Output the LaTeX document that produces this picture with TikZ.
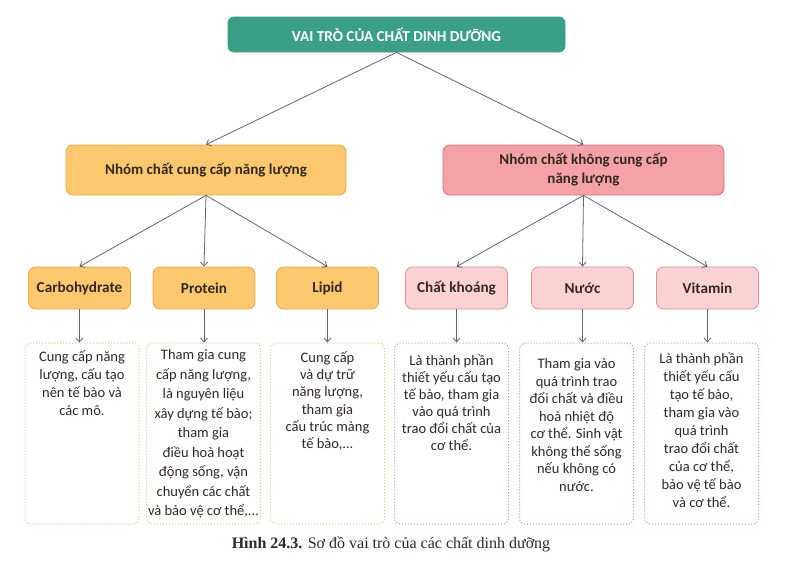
\documentclass[tikz,border=0pt]{standalone}
\usepackage{fontspec}
\setmainfont{Carlito}
\newfontfamily\capfont{Liberation Serif}
\usetikzlibrary{arrows.meta,positioning}
\definecolor{teal1}{RGB}{57,160,133}
\definecolor{orfill}{RGB}{251,200,110}
\definecolor{ordraw}{RGB}{236,168,70}
\definecolor{pkfill}{RGB}{244,162,166}
\definecolor{pkdraw}{RGB}{222,110,125}
\definecolor{pkfill2}{RGB}{250,210,210}
\definecolor{pkdraw2}{RGB}{226,140,150}
\definecolor{ordot}{RGB}{225,200,120}
\definecolor{pkdot}{RGB}{225,130,160}
\definecolor{txt}{RGB}{50,40,35}
\definecolor{arr}{RGB}{100,100,112}
\tikzset{
  topbox/.style={draw=teal1, fill=teal1, rounded corners=6pt, minimum width=337pt, minimum height=35pt, text=white, font=\bfseries\fontsize{15.2}{17}\selectfont, line width=0.8pt},
  grpor/.style={draw=ordraw, fill=orfill, rounded corners=7pt, minimum width=280pt, minimum height=50pt, text=txt, font=\bfseries\fontsize{15}{19}\selectfont, align=center, line width=0.8pt},
  grppk/.style={draw=pkdraw, fill=pkfill, rounded corners=7pt, minimum width=281pt, minimum height=50pt, text=txt, font=\bfseries\fontsize{15}{19}\selectfont, align=center, line width=0.8pt},
  smor/.style={draw=ordraw, fill=orfill, rounded corners=7pt, minimum width=102pt, minimum height=42pt, text=txt, font=\bfseries\fontsize{15.2}{17}\selectfont, line width=0.8pt},
  smpk/.style={draw=pkdraw2, fill=pkfill2, rounded corners=7pt, minimum width=102pt, minimum height=42pt, text=txt, font=\bfseries\fontsize{15.2}{17}\selectfont, line width=0.8pt},
  descor/.style={draw=ordot, dotted, line width=1pt, rounded corners=6pt, minimum width=114pt, minimum height=181pt, fill=white},
  descpk/.style={draw=pkdot, dotted, line width=1pt, rounded corners=6pt, minimum width=114pt, minimum height=181pt, fill=white},
  desctext/.style={text=txt, font=\fontsize{14.5}{18}\selectfont, align=center, inner sep=0pt},
  captext/.style={text=txt, font=\capfont\fontsize{16}{18}\selectfont},
  conn/.style={draw=arr, line width=0.8pt, -{Straight Barb[length=4pt,width=7pt]}}
}
\begin{document}
\begin{tikzpicture}[x=1pt,y=-1pt]
\useasboundingbox (0,0) rectangle (791,566);
\fill[white] (0,0) rectangle (791,566);
\node[topbox] (top) at (396.5,34.5) {VAI TRÒ CỦA CHẤT DINH DƯỠNG};
\node[grpor] (g1) at (206,170) {Nhóm chất cung cấp năng lượng};
\node[grppk] (g2) at (583.5,170) {Nhóm chất không cung cấp\\năng lượng};
\node[smor] (c1) at (79.5,288) {Carbohydrate};
\node[smor] (c2) at (204,288) {Protein};
\node[smor] (c3) at (327.5,288) {Lipid};
\node[smpk] (c4) at (456.5,288) {Chất khoáng};
\node[smpk] (c5) at (582.5,288) {Nước};
\node[smpk] (c6) at (707.5,288) {Vitamin};
\node[descor] (d1) at (82,433.5) {};
\node[descor] (d2) at (203.5,433.5) {};
\node[descor] (d3) at (327.5,433.5) {};
\node[descpk] (d4) at (451.5,433.5) {};
\node[descpk] (d5) at (576.5,433.5) {};
\node[descpk] (d6) at (701.5,433.5) {};
\node[desctext, anchor=north] at ([yshift=-8pt]d1.north) {Cung cấp năng\\lượng, cấu tạo\\nên tế bào và\\các mô.};
\node[desctext, anchor=north, font=\fontsize{14.5}{19.5}\selectfont] at ([yshift=-7pt]d2.north) {Tham gia cung\\cấp năng lượng,\\là nguyên liệu\\xây dựng tế bào;\\tham gia\\điều hoà hoạt\\động sống, vận\\chuyển các chất\\và bảo vệ cơ thể,...};
\node[desctext, anchor=north, font=\fontsize{14.5}{17.2}\selectfont] at ([yshift=-9pt]d3.north) {Cung cấp\\và dự trữ\\năng lượng,\\tham gia\\cấu trúc màng\\tế bào,...};
\node[desctext, anchor=north, font=\fontsize{14.5}{17}\selectfont] at ([yshift=-12pt]d4.north) {Là thành phần\\thiết yếu cấu tạo\\tế bào, tham gia\\vào quá trình\\trao đổi chất của\\cơ thể.};
\node[desctext, anchor=north, font=\fontsize{14.5}{17.5}\selectfont] at ([yshift=-16pt]d5.north) {Tham gia vào\\quá trình trao\\đổi chất và điều\\hoà nhiệt độ\\cơ thể. Sinh vật\\không thể sống\\nếu không có\\nước.};
\node[desctext, anchor=north] at ([yshift=-10pt]d6.north) {Là thành phần\\thiết yếu cấu\\tạo tế bào,\\tham gia vào\\quá trình\\trao đổi chất\\của cơ thể,\\bảo vệ tế bào\\và cơ thể.};
\node[captext] (cap) at (391,544) {\textbf{Hình 24.3.} Sơ đồ vai trò của các chất dinh dưỡng};
\draw[conn] (top.south) -- (g1.north);
\draw[conn] (top.south) -- (g2.north);
\draw[conn] (g1.south) -- (c1.north);
\draw[conn] (g1.south) -- (c2.north);
\draw[conn] (g1.south) -- (c3.north);
\draw[conn] (g2.south) -- (c4.north);
\draw[conn] (g2.south) -- (c5.north);
\draw[conn] (g2.south) -- (c6.north);
\draw[conn] (c1.south) -- (c1.south |- d1.north);
\draw[conn] (c2.south) -- (c2.south |- d2.north);
\draw[conn] (c3.south) -- (c3.south |- d3.north);
\draw[conn] (c4.south) -- (c4.south |- d4.north);
\draw[conn] (c5.south) -- (c5.south |- d5.north);
\draw[conn] (c6.south) -- (c6.south |- d6.north);
\end{tikzpicture}
\end{document}
